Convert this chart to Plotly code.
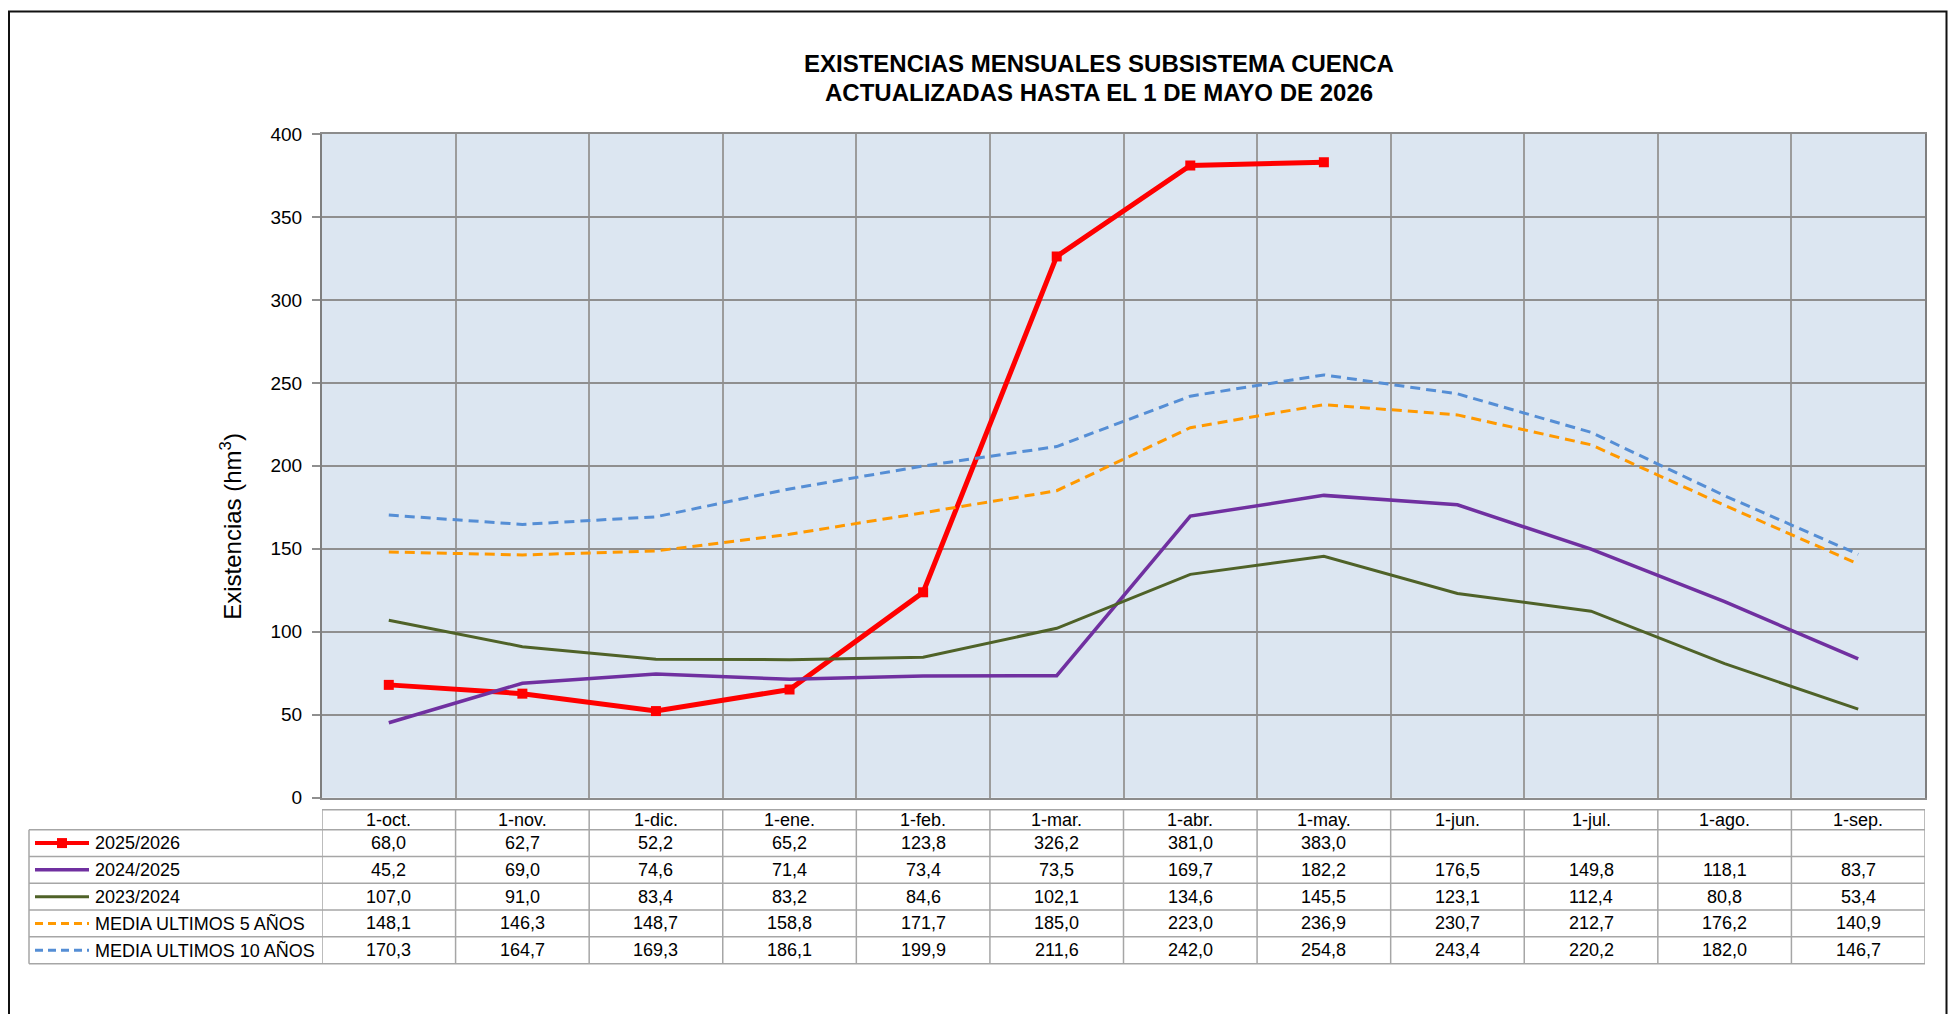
import plotly.graph_objects as go

FW, FH = 1950, 1014
# calibration of reference pixel -> figure pixel (vertical)
SY, OY = 1.0207, 9.14

meses = ["1-oct.", "1-nov.", "1-dic.", "1-ene.", "1-feb.", "1-mar.", "1-abr.", "1-may.",
         "1-jun.", "1-jul.", "1-ago.", "1-sep."]
s_2025_2026 = [68.0, 62.7, 52.2, 65.2, 123.8, 326.2, 381.0, 383.0, None, None, None, None]
s_2024_2025 = [45.2, 69.0, 74.6, 71.4, 73.4, 73.5, 169.7, 182.2, 176.5, 149.8, 118.1, 83.7]
s_2023_2024 = [107.0, 91.0, 83.4, 83.2, 84.6, 102.1, 134.6, 145.5, 123.1, 112.4, 80.8, 53.4]
media_5 = [148.1, 146.3, 148.7, 158.8, 171.7, 185.0, 223.0, 236.9, 230.7, 212.7, 176.2, 140.9]
media_10 = [170.3, 164.7, 169.3, 186.1, 199.9, 211.6, 242.0, 254.8, 243.4, 220.2, 182.0, 146.7]

series = [
    dict(name="2025/2026", y=s_2025_2026, color="#FF0000", width=5, dash="solid", marker=True),
    dict(name="2024/2025", y=s_2024_2025, color="#7030A0", width=3.5, dash="solid", marker=False),
    dict(name="2023/2024", y=s_2023_2024, color="#4F6228", width=3, dash="solid", marker=False),
    dict(name="MEDIA ULTIMOS 5 AÑOS", y=media_5, color="#FF9900", width=3, dash="10px,6px", marker=False),
    dict(name="MEDIA ULTIMOS 10 AÑOS", y=media_10, color="#558ED5", width=3, dash="10px,6px", marker=False),
]

FONT = "Liberation Sans, Arial, sans-serif"

def px(x):
    return x / FW

def fig_y(y):
    return SY * y - OY

def py(y):
    return 1 - fig_y(y) / FH

PL, PR, PT, PB = 322, 1925, 133, 797

fig = go.Figure()
xs = list(range(len(meses)))
for s in series:
    fig.add_trace(go.Scatter(
        x=xs, y=s["y"], name=s["name"],
        mode="lines+markers" if s["marker"] else "lines",
        line=dict(color=s["color"], width=s["width"], dash=s["dash"]),
        marker=dict(symbol="square", size=10, color=s["color"]),
        connectgaps=False, showlegend=False, hoverinfo="skip",
    ))

shapes = []
annotations = []

TITLE_FONT = dict(family=FONT, size=24, color="black")
annotations.append(dict(text="<b>EXISTENCIAS MENSUALES SUBSISTEMA CUENCA</b>", x=px(1099), y=py(62),
                        xref="paper", yref="paper", showarrow=False, xanchor="center", yanchor="middle",
                        font=TITLE_FONT))
annotations.append(dict(text="<b>ACTUALIZADAS HASTA EL 1 DE MAYO DE 2026</b>", x=px(1099), y=py(91),
                        xref="paper", yref="paper", showarrow=False, xanchor="center", yanchor="middle",
                        font=TITLE_FONT))
annotations.append(dict(text="Existencias (hm<sup>3</sup>)", x=px(231), y=py(526),
                        xref="paper", yref="paper", showarrow=False, textangle=-90,
                        xanchor="center", yanchor="middle",
                        font=dict(family=FONT, size=24, color="black")))

T_HEAD_TOP, T_HEAD_BOT = 809, 829
ROW_H = 26.8
T_LEFT = 29
GRID_C = "#A6A6A6"
n_rows = len(series)
row_edges = [T_HEAD_BOT + ROW_H * i for i in range(n_rows + 1)]

shapes.append(dict(type="line", xref="paper", yref="paper", x0=px(PL), x1=px(PR),
                   y0=py(T_HEAD_TOP), y1=py(T_HEAD_TOP), line=dict(color=GRID_C, width=1.5)))
for e in row_edges:
    shapes.append(dict(type="line", xref="paper", yref="paper", x0=px(T_LEFT), x1=px(PR),
                       y0=py(e), y1=py(e), line=dict(color=GRID_C, width=1.5)))
shapes.append(dict(type="line", xref="paper", yref="paper", x0=px(T_LEFT), x1=px(T_LEFT),
                   y0=py(T_HEAD_BOT), y1=py(row_edges[-1]), line=dict(color=GRID_C, width=1.5)))
for k in range(len(meses) + 1):
    shapes.append(dict(type="line", xref="x", yref="paper", x0=k - 0.5, x1=k - 0.5,
                       y0=py(T_HEAD_TOP), y1=py(row_edges[-1]), line=dict(color=GRID_C, width=1.5)))

TFONT = dict(family=FONT, size=18, color="black")
for i, m in enumerate(meses):
    annotations.append(dict(text=m, x=i, y=py((T_HEAD_TOP + T_HEAD_BOT) / 2), xref="x", yref="paper",
                            showarrow=False, xanchor="center", yanchor="middle", font=TFONT))

def fmt(v):
    return f"{v:.1f}".replace(".", ",")

for r, s in enumerate(series):
    yc = (row_edges[r] + row_edges[r + 1]) / 2
    for i, v in enumerate(s["y"]):
        if v is None:
            continue
        annotations.append(dict(text=fmt(v), x=i, y=py(yc), xref="x", yref="paper",
                                showarrow=False, xanchor="center", yanchor="middle", font=TFONT))
    annotations.append(dict(text=s["name"], x=px(93), y=py(yc), xref="paper", yref="paper",
                            showarrow=False, xanchor="left", yanchor="middle", font=TFONT))
    dash = "solid" if s["dash"] == "solid" else "8px,5px"
    shapes.append(dict(type="line", xref="paper", yref="paper", x0=px(35), x1=px(89),
                       y0=py(yc), y1=py(yc),
                       line=dict(color=s["color"], width=min(s["width"], 4), dash=dash)))
    if s["marker"]:
        shapes.append(dict(type="rect", xref="paper", yref="paper", x0=px(57), x1=px(67),
                           y0=py(yc - 5), y1=py(yc + 5), fillcolor=s["color"],
                           line=dict(width=0)))

# outer frame (top edge kept inside the figure)
shapes.append(dict(type="rect", xref="paper", yref="paper", x0=px(9), x1=px(1946.5),
                   y0=1 - 1.5 / FH, y1=-0.05, line=dict(color="#111111", width=2)))

fig.update_layout(
    width=FW, height=FH,
    margin=dict(l=0, r=0, t=0, b=0),
    paper_bgcolor="white",
    plot_bgcolor="#DCE6F1",
    showlegend=False,
    shapes=shapes,
    annotations=annotations,
    xaxis=dict(domain=[px(PL), px(PR)], range=[-0.5, len(meses) - 0.5],
               tickmode="array", tickvals=[k - 0.5 for k in range(len(meses) + 1)],
               showticklabels=False, showgrid=True, gridcolor="#9C9C9C", gridwidth=2,
               zeroline=False, showline=True, linecolor="#8C8C8C", linewidth=2, mirror=True,
               ticks=""),
    yaxis=dict(domain=[py(PB), py(PT)], range=[0, 400], dtick=50, tick0=0,
               showgrid=True, gridcolor="#8F8F8F", gridwidth=1.5, zeroline=False,
               showline=True, linecolor="#7F7F7F", linewidth=2, mirror=True,
               ticks="outside", ticklen=8, tickcolor="#8F8F8F", tickwidth=1.5,
               tickfont=dict(family=FONT, size=19, color="black"), ticklabelstandoff=6),
)

fig.write_html("out.html", config={"displayModeBar": False},
               post_script="document.body.style.margin='0px';document.body.style.overflow='hidden';")
